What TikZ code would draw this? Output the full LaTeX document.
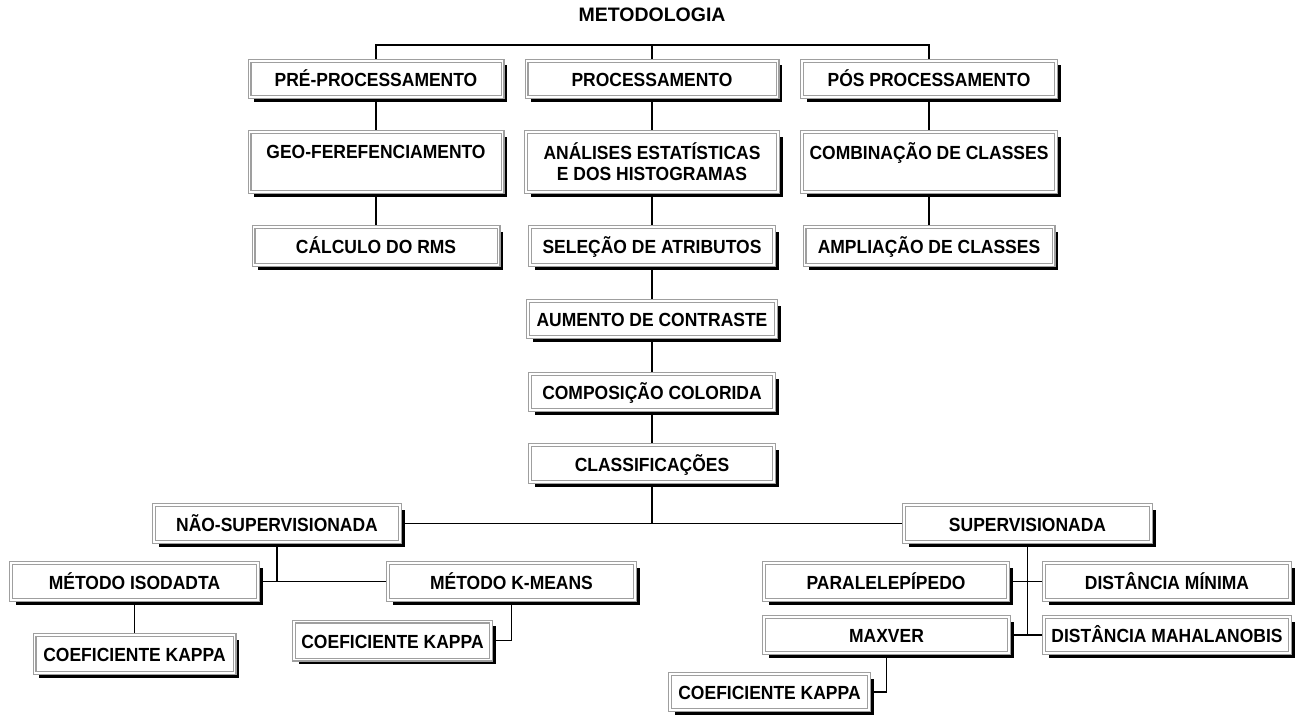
\documentclass[tikz,border=0pt]{standalone}
\usepackage{fontspec}
\setmainfont{Liberation Sans}
\newfontfamily\boxfont{Liberation Sans}[FakeStretch=0.92]
\usetikzlibrary{shadows,backgrounds}

\begin{document}
\begin{tikzpicture}[x=1pt, y=-1pt,
box/.style={rectangle, draw=gray!75, fill=white, line width=1.2pt, double=white, double distance=1.6pt, inner sep=2pt, align=center, minimum height=36pt, text height=15.5pt, text depth=0.5pt, font=\boxfont\bfseries\fontsize{19}{21}\selectfont, drop shadow={shadow xshift=4.5pt, shadow yshift=-4.5pt, fill=black, opacity=1}},
tallbox/.style={box, text height=, text depth=, minimum height=60pt},
title/.style={font=\bfseries\fontsize{19.5}{22}\selectfont},
link/.style={draw=black, line width=1.5pt}
]
\useasboundingbox (0,0) rectangle (1299,717);

% \node[box, minimum width=...](name) at (x,y) {text}
\node[title](metodo) at (652,15) {METODOLOGIA};

\node[box, minimum width=253pt](pre) at (376,79) {PRÉ-PROCESSAMENTO};
\node[box, minimum width=251pt](proc) at (652,79) {PROCESSAMENTO};
\node[box, minimum width=254pt](pos) at (929,79) {PÓS PROCESSAMENTO};

\node[tallbox, minimum width=253pt](geo) at (376,162) {GEO-FEREFENCIAMENTO\\\mbox{}};
\node[tallbox, minimum width=252pt](ana) at (652,162) {ANÁLISES ESTATÍSTICAS\\E DOS HISTOGRAMAS};
\node[tallbox, minimum width=254pt](comb) at (929,162) {COMBINAÇÃO DE CLASSES\\\mbox{}};

\node[box, minimum width=245pt, minimum height=38pt](rms) at (376,246) {CÁLCULO DO RMS};
\node[box, minimum width=244pt, minimum height=38pt](sel) at (652,246) {SELEÇÃO DE ATRIBUTOS};
\node[box, minimum width=249pt, minimum height=38pt](amp) at (929,246) {AMPLIAÇÃO DE CLASSES};

\node[box, minimum width=248pt](aum) at (652,319) {AUMENTO DE CONTRASTE};
\node[box, minimum width=244pt](comp) at (652,392) {COMPOSIÇÃO COLORIDA};
\node[box, minimum width=244pt, minimum height=37pt](cla) at (652,463.5) {CLASSIFICAÇÕES};

\node[box, minimum width=246pt, minimum height=37pt](nao) at (277,523.5) {NÃO-SUPERVISIONADA};
\node[box, minimum width=247pt, minimum height=37pt](sup) at (1027.5,523.5) {SUPERVISIONADA};

\node[box, minimum width=247pt, minimum height=37pt](iso) at (134.5,581.5) {MÉTODO ISODADTA};
\node[box, minimum width=247pt, minimum height=37pt](kmeans) at (511.5,581.5) {MÉTODO K-MEANS};
\node[box, minimum width=200pt, minimum height=38pt](kappa_iso) at (134.5,654) {COEFICIENTE KAPPA};
\node[box, minimum width=197pt, minimum height=38pt](kappa_km) at (392.5,640.5) {COEFICIENTE KAPPA};

\node[box, minimum width=244pt, minimum height=37pt](para) at (886,581.5) {PARALELEPÍPEDO};
\node[box, minimum width=246pt, minimum height=37pt](dmin) at (1167,581.5) {DISTÂNCIA MÍNIMA};
\node[box, minimum width=245pt](maxver) at (886.5,635) {MAXVER};
\node[box, minimum width=246pt](dmah) at (1167,635) {DISTÂNCIA MAHALANOBIS};
\node[box, minimum width=199pt](kappa_mv) at (769.5,692) {COEFICIENTE KAPPA};

% connectors behind the boxes
\begin{scope}[on background layer]
\coordinate (bus) at (652,45);
\coordinate (split) at (652,523.5);
\draw[link](pre.north) |- (bus) -| (pos.north);
\draw[link](bus) -- (proc.north);
\draw[link](pre) -- (geo) -- (rms);
\draw[link](proc) -- (ana) -- (sel) -- (aum) -- (comp) -- (cla);
\draw[link](pos) -- (comb) -- (amp);

\draw[link](cla) -- (split);
\draw[link](nao) -- (sup);
\draw[link](nao.south) -- (nao.south |- iso.east);
\draw[link](iso) -- (kmeans);
\draw[link](iso) -- (kappa_iso);
\draw[link](kmeans.south) |- (kappa_km.east);

\draw[link](sup.south) -- (sup.south |- dmah.west);
\draw[link](para) -- (dmin);
\draw[link](maxver) -- (dmah);
\draw[link](maxver.south) |- (kappa_mv.east);
\end{scope}
\end{tikzpicture}
\end{document}
